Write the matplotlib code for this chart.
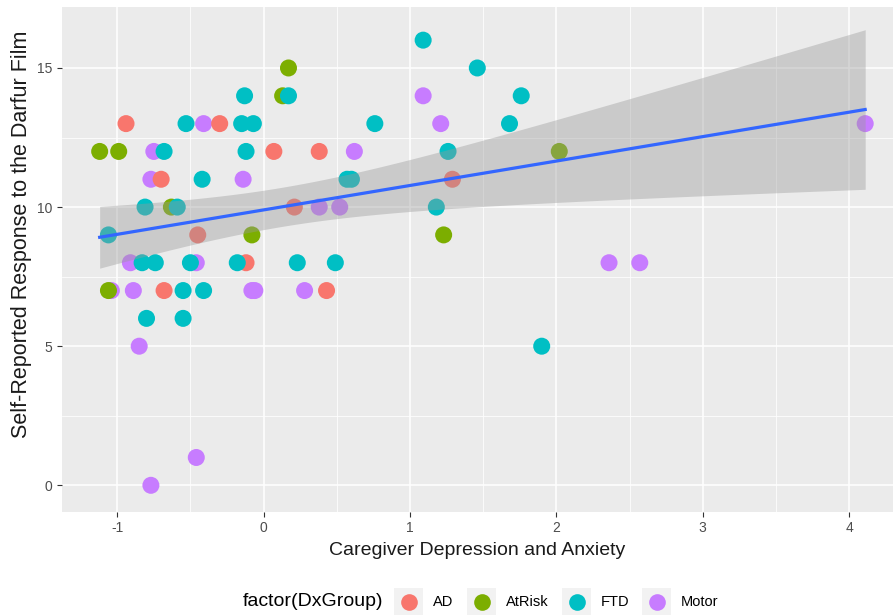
import numpy as np
import matplotlib
matplotlib.use("Agg")
import matplotlib.pyplot as plt
from matplotlib.patches import Rectangle
from matplotlib.lines import Line2D

plt.rcParams['font.family'] = ['Liberation Sans', 'DejaVu Sans']
plt.rcParams['axes.unicode_minus'] = False

# valores, por grupo
grupos = ["AD", "AtRisk", "FTD", "Motor"]
colores = {"AD": "#F8766D", "AtRisk": "#7CAE00", "FTD": "#00BFC4", "Motor": "#C77CFF"}

ad_x = [-0.94, -0.30, 0.07, 0.38, -0.70, 1.29, 0.21, -0.45, -0.12, -0.68, 0.43]
ad_y = [13, 13, 12, 12, 11, 11, 10, 9, 8, 7, 7]

atrisk_x = [0.17, 0.13, -1.12, -0.99, 2.02, -0.63, -0.08, 1.23, -1.06]
atrisk_y = [15, 14, 12, 12, 12, 10, 9, 9, 7]

ftd_x = [1.09, 1.46, -0.13, 0.17, 1.76, -0.53, -0.15, -0.07, 0.76, 1.68,
         -0.68, -0.12, 1.26, -0.42, 0.57, 0.60, -0.81, -0.59, 1.18, -1.06,
         -0.83, -0.74, -0.50, -0.18, 0.23, 0.49, -0.55, -0.41, -0.80, -0.55, 1.90]
ftd_y = [16, 15, 14, 14, 14, 13, 13, 13, 13, 13,
         12, 12, 12, 11, 11, 11, 10, 10, 10, 9,
         8, 8, 8, 8, 8, 8, 7, 7, 6, 6, 5]

motor_x = [1.09, -0.41, 1.21, 4.11, -0.75, 0.62, -0.77, -0.14, 0.38, 0.52,
           -0.91, -0.46, 2.36, 2.57, -1.04, -0.89, -0.08, -0.06, 0.28, -0.85,
           -0.46, -0.77]
motor_y = [14, 13, 13, 13, 12, 12, 11, 11, 10, 10,
           8, 8, 8, 8, 7, 7, 7, 7, 7, 5,
           1, 0]

datos = {
    "AD": (ad_x, ad_y),
    "AtRisk": (atrisk_x, atrisk_y),
    "FTD": (ftd_x, ftd_y),
    "Motor": (motor_x, motor_y),
}

fig = plt.figure(figsize=(8.93, 6.15), dpi=100)
ax = fig.add_axes([0.069, 0.167, 0.931, 0.822])
ax.set_facecolor("#EBEBEB")
for s in ax.spines.values():
    s.set_visible(False)

# puntos (Motor primero, queda debajo)
for g in ["Motor", "AD", "AtRisk", "FTD"]:
    gx, gy = datos[g]
    ax.scatter(gx, gy, s=150, color=colores[g], edgecolors="none", zorder=3)

# recta lm con intervalo de confianza 95%
todos_x = np.array(ad_x + atrisk_x + ftd_x + motor_x, dtype=float)
todos_y = np.array(ad_y + atrisk_y + ftd_y + motor_y, dtype=float)
n = len(todos_x)
b, a = np.polyfit(todos_x, todos_y, 1)
resid = todos_y - (a + b * todos_x)
s_err = np.sqrt(np.sum(resid ** 2) / (n - 2))
xm = todos_x.mean()
sxx = np.sum((todos_x - xm) ** 2)
xs = np.linspace(todos_x.min(), todos_x.max(), 80)
ys = a + b * xs
t = 1.99
se = s_err * np.sqrt(1.0 / n + (xs - xm) ** 2 / sxx)
ax.fill_between(xs, ys - t * se, ys + t * se, color="#999999", alpha=0.4,
                linewidth=0, zorder=4)
ax.plot(xs, ys, color="#3366FF", linewidth=2.3, zorder=5)

ax.set_xlim(-1.38, 4.30)
ax.set_ylim(-0.97, 17.2)
ax.set_xticks([-1, 0, 1, 2, 3, 4])
ax.set_xticks([-0.5, 0.5, 1.5, 2.5, 3.5], minor=True)
ax.set_yticks([0, 5, 10, 15])
ax.set_yticks([2.5, 7.5, 12.5], minor=True)
ax.grid(which="major", color="white", linewidth=1.1, zorder=0)
ax.grid(which="minor", color="white", linewidth=0.55, zorder=0)
ax.set_axisbelow(True)
ax.tick_params(which="major", length=3.5, width=0.8, color="#333333",
               labelsize=10, labelcolor="#4D4D4D", pad=3)
ax.tick_params(which="minor", length=0)

ax.set_xlabel("Caregiver Depression and Anxiety", fontsize=14, color="#1A1A1A", labelpad=5)
ax.set_ylabel("Self-Reported Response to the Darfur Film", fontsize=15.5, color="#1A1A1A")
ax.yaxis.set_label_coords(-0.036, 0.55)

# leyenda abajo, a mano estilo ggplot
fig.text(243 / 893, 1 - 602 / 615, "factor(DxGroup)", fontsize=14, va="center", ha="left")
cajas = [394, 467, 562, 642]
for g, x0 in zip(grupos, cajas):
    fig.add_artist(Rectangle((x0 / 893, 1 - 616 / 615), 29 / 893, 28 / 615,
                             transform=fig.transFigure, facecolor="#F2F2F2",
                             edgecolor="none"))
    fig.add_artist(Line2D([(x0 + 14.5) / 893], [1 - 602 / 615], marker="o",
                          markersize=12, color=colores[g], markeredgewidth=0,
                          transform=fig.transFigure))
    fig.text((x0 + 39) / 893, 1 - 602 / 615, g, fontsize=10.5, va="center", ha="left")

fig.savefig("out.png", dpi=100)
